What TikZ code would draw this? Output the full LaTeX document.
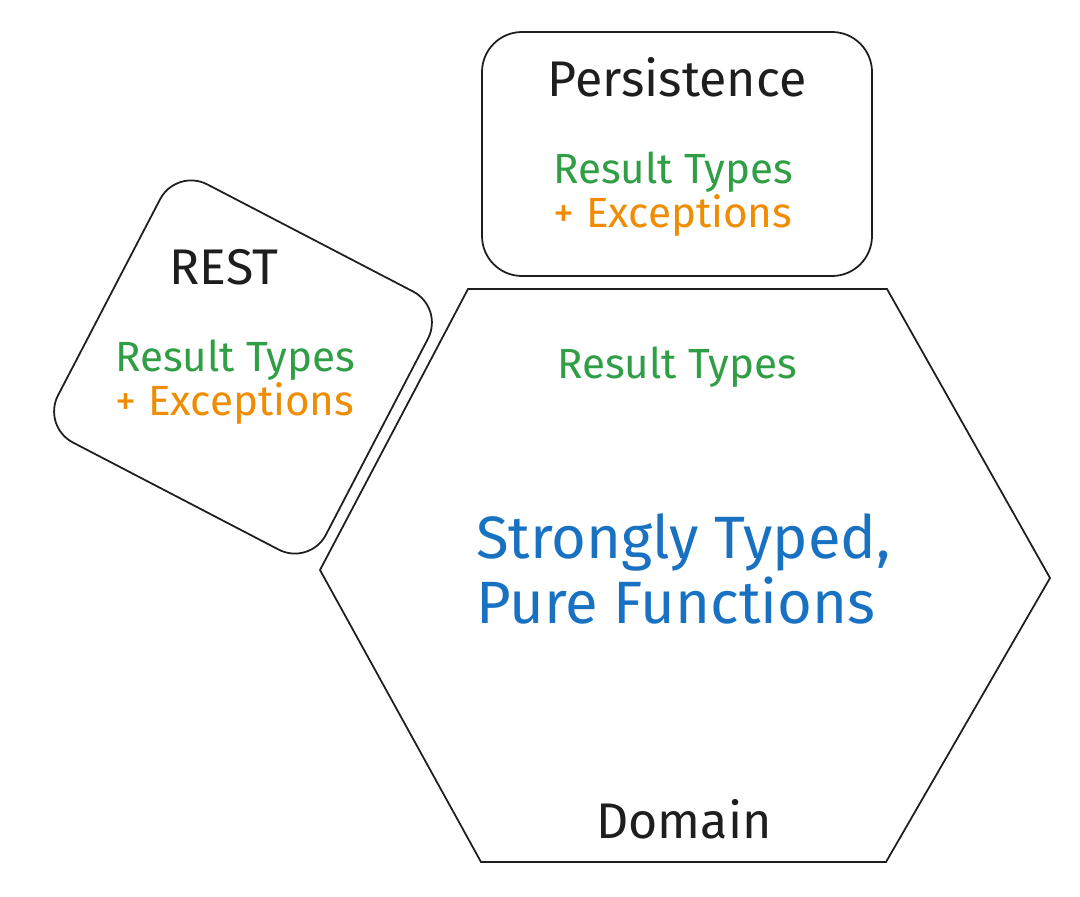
\documentclass[tikz,border=0pt]{standalone}
\usepackage{fontspec}
\setmainfont{Fira Sans}
\usetikzlibrary{positioning}
\definecolor{ink}{HTML}{1E1E1E}
\definecolor{resgreen}{HTML}{2F9E44}
\definecolor{excorange}{HTML}{F08C00}
\definecolor{pureblue}{HTML}{1971C2}
\tikzstyle{layer box}=[
        draw = ink,
        line width = 1pt,
        fill = white,
        rounded corners = 8mm
    ]
\tikzstyle{title text}=[
    text = ink,
    font = \fontsize{28.5}{32}\selectfont
]
\tikzstyle{result text}=[
    text = resgreen,
    font = \fontsize{24}{27}\selectfont
]
\tikzstyle{except text}=[
    text = excorange,
    font = \fontsize{24}{27}\selectfont
]
\begin{document}
\begin{tikzpicture}[x=0.2mm, y=-0.2mm, node distance={8.8mm}]
        \useasboundingbox (0,0) rectangle (1080,896);

        % persistence
        \node[layer box, minimum width = 78mm, minimum height = 48.8mm] (pers) at (677,154) {};
        \node[title text] (pt) at (677,77) {Persistence};
        \node[result text] (pr) at (673,172) {Result Types};
        \node[except text] (pe) [below of = pr] {+ Exceptions};

        % rest
        \node[layer box, rounded corners = 7mm, minimum width = 60.4mm, minimum height = 58.2mm, rotate = -27.5] (rest) at (243,367) {};
        \node[title text] (rt) at (224,267) {REST};
        \node[result text] (rr) at (235,360) {Result Types};
        \node[except text] (re) [below of = rr] {+ Exceptions};

        % domain
        \draw[ink, line width = 1pt] (468,289) -- (887,289) -- (1050,578) -- (886,862) -- (481,862) -- (320,570) -- cycle;
        \node[result text] (dr) at (677,367) {Result Types};
        \node[text = pureblue, font = \fontsize{34}{37}\selectfont, align = left, anchor = west] (dp) at (470,569) {Strongly Typed,\\Pure Functions};
        \node[title text] (dt) at (684,819) {Domain};

    \end{tikzpicture}
\end{document}
